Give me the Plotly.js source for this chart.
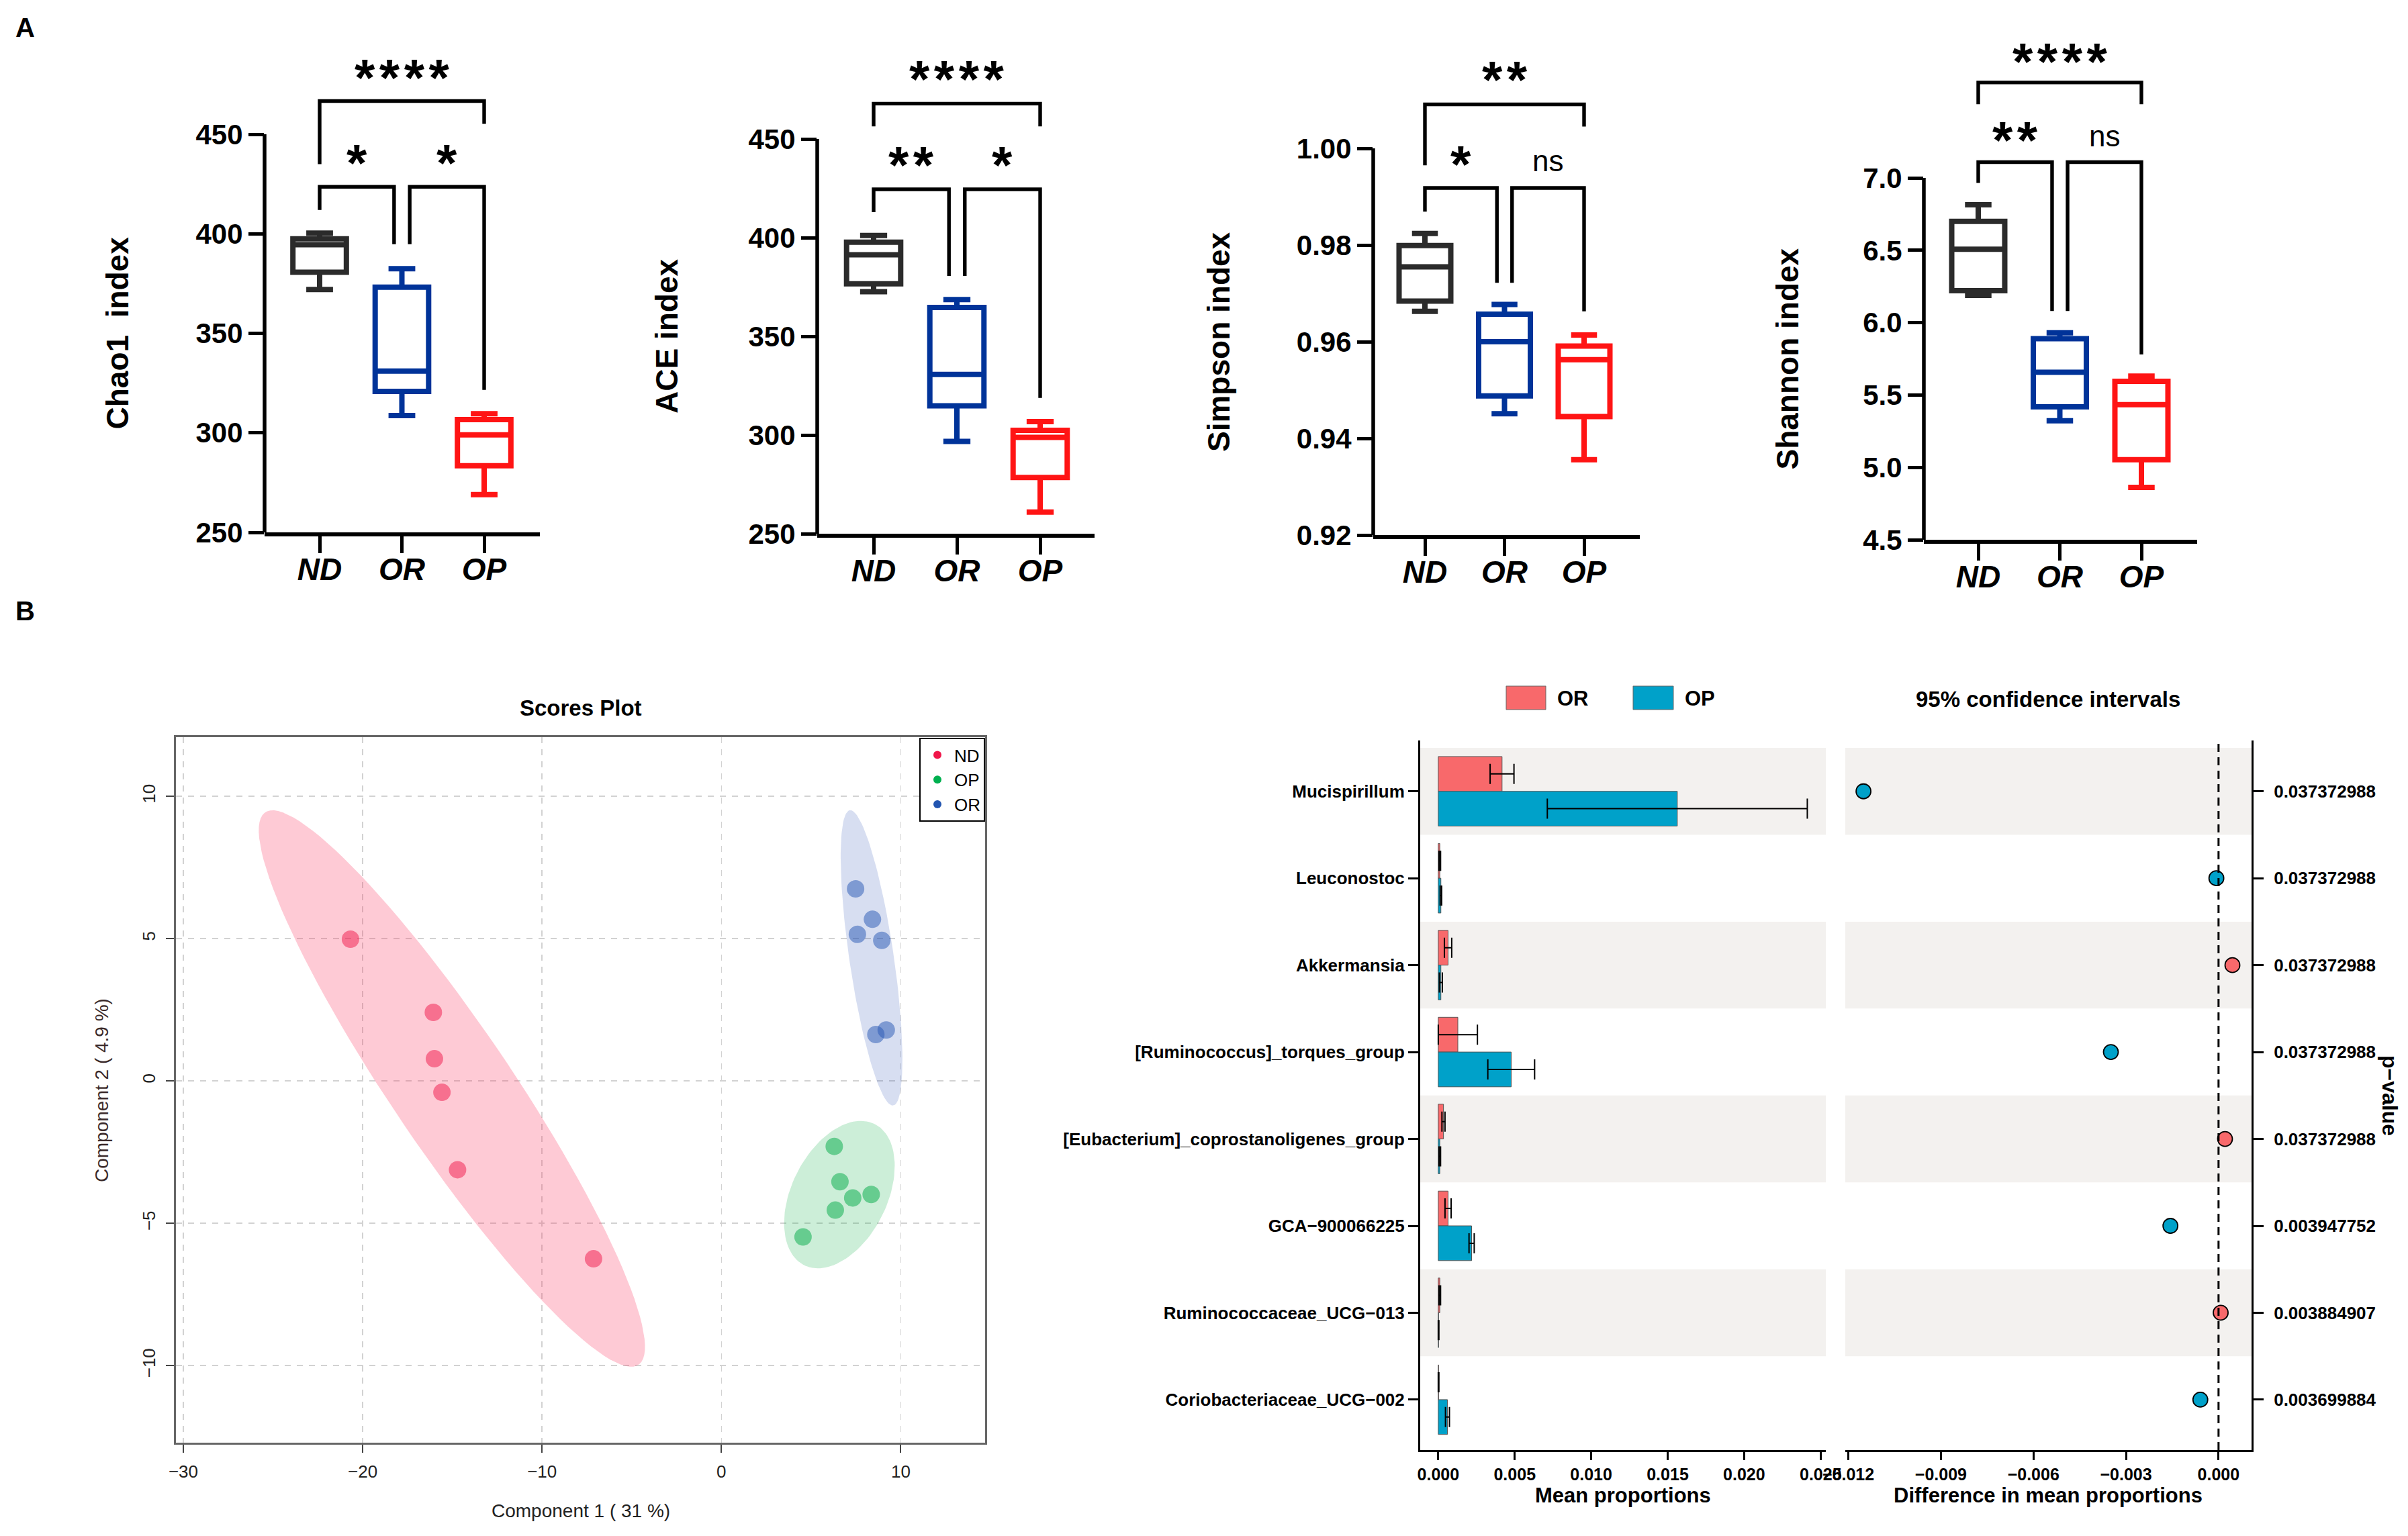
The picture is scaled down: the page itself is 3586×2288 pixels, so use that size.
<!DOCTYPE html>
<html><head><meta charset="utf-8">
<script src="https://cdn.plot.ly/plotly-3.0.1.min.js"></script>
<style>html,body{margin:0;padding:0;background:#fff}#chart{width:3586px;height:2288px}</style>
</head><body><div id="chart"></div>
<script>
// ================= DATA =================
const groups = ['ND', 'OR', 'OP'];

// Panel A – box summaries (lower whisker, Q1, median, Q3, upper whisker), per group ND, OR, OP
const chaoMin = [372.0, 308.7, 269.0];
const chaoQ1  = [380.7, 320.8, 283.5];
const chaoMed = [394.5, 331.0, 299.0];
const chaoQ3  = [397.5, 373.2, 306.7];
const chaoMax = [400.3, 382.5, 309.6];

const aceMin = [372.6, 296.8, 261.0];
const aceQ1  = [376.6, 314.8, 278.5];
const aceMed = [391.3, 330.7, 298.8];
const aceQ3  = [397.7, 364.6, 302.4];
const aceMax = [401.1, 368.6, 306.8];

const simpsonMin = [0.9663, 0.9451, 0.9356];
const simpsonQ1  = [0.9684, 0.9488, 0.9445];
const simpsonMed = [0.9755, 0.9600, 0.9563];
const simpsonQ3  = [0.9799, 0.9657, 0.9591];
const simpsonMax = [0.9824, 0.9677, 0.9614];

const shannonMin = [6.188, 5.322, 4.862];
const shannonQ1  = [6.221, 5.418, 5.053];
const shannonMed = [6.507, 5.657, 5.434];
const shannonQ3  = [6.700, 5.889, 5.595];
const shannonMax = [6.815, 5.930, 5.630];

const chaoTicks    = [250, 300, 350, 400, 450];
const aceTicks     = [250, 300, 350, 400, 450];
const simpsonTicks = [0.92, 0.94, 0.96, 0.98, 1.00];
const shannonTicks = [4.5, 5.0, 5.5, 6.0, 6.5, 7.0];

// significance brackets: pairs (group index a, group index b)
const sigPairs = [[0, 2], [0, 1], [1, 2]];
const chaoSigLabel = ['****', '*', '*'];
const chaoSigBar   = [466.7, 423.6, 423.6];
const chaoSigLegA  = [435.0, 412.0, 394.8];
const chaoSigLegB  = [455.2, 394.8, 321.6];
const chaoSigText  = [480.6, 438.0, 438.0];

const aceSigLabel = ['****', '**', '*'];
const aceSigBar   = [467.9, 424.5, 424.5];
const aceSigLegA  = [456.4, 412.9, 380.6];
const aceSigLegB  = [456.4, 380.6, 318.8];
const aceSigText  = [482.7, 439.0, 439.0];

const simpsonSigLabel = ['**', '*', 'ns'];
const simpsonSigBar   = [1.0091, 0.9918, 0.9918];
const simpsonSigLegA  = [0.9965, 0.9869, 0.9722];
const simpsonSigLegB  = [1.0045, 0.9722, 0.9663];
const simpsonSigText  = [1.0151, 0.9977, 0.9975];

const shannonSigLabel = ['****', '**', 'ns'];
const shannonSigBar   = [7.659, 7.109, 7.109];
const shannonSigLegA  = [7.509, 6.965, 6.080];
const shannonSigLegB  = [7.509, 6.080, 5.780];
const shannonSigText  = [7.836, 7.291, 7.291];

// Panel B left – PLS-DA scores
const ndX = [-20.68, -16.06, -16.00, -15.58, -14.71, -7.13];
const ndY = [4.98, 2.41, 0.78, -0.40, -3.12, -6.25];
const opX = [6.29, 6.61, 7.32, 8.35, 6.35, 4.55];
const opY = [-2.30, -3.54, -4.11, -3.99, -4.54, -5.48];
const orX = [7.48, 8.42, 7.58, 8.94, 8.61, 9.19];
const orY = [6.75, 5.68, 5.15, 4.94, 1.63, 1.79];
const scoreXTicks = [-30, -20, -10, 0, 10];
const scoreYTicks = [-10, -5, 0, 5, 10];

// Panel B right – extended error bar plot
const genera = ['Mucispirillum', 'Leuconostoc', 'Akkermansia', '[Ruminococcus]_torques_group',
  '[Eubacterium]_coprostanoligenes_group', 'GCA\u2212900066225', 'Ruminococcaceae_UCG\u2212013',
  'Coriobacteriaceae_UCG\u2212002'];
const orMean = [0.00417, 0.00010, 0.00064, 0.00128, 0.00034, 0.00064, 0.00010, 0.00002];
const orErr  = [0.00078, 0.00005, 0.00024, 0.00128, 0.00010, 0.00020, 0.00005, 0.00002];
const opMean = [0.01563, 0.00017, 0.00017, 0.00477, 0.00010, 0.00218, 0.00002, 0.00060];
const opErr  = [0.00850, 0.00005, 0.00010, 0.00153, 0.00005, 0.00017, 0.00002, 0.00013];
const diffMean = [-0.01151, -0.00007, 0.00045, -0.00349, 0.00021, -0.00156, 0.00007, -0.00059];
const pValues = ['0.037372988', '0.037372988', '0.037372988', '0.037372988', '0.037372988',
  '0.003947752', '0.003884907', '0.003699884'];
const meanTicks = [0, 0.005, 0.010, 0.015, 0.020, 0.025];
const diffTicks = [-0.012, -0.009, -0.006, -0.003, 0];

// ================= STYLE / LAYOUT =================
const W = 3586, H = 2288;
const px = v => v / W;
const py = v => 1 - v / H;
const FONT = 'Liberation Sans, Arial, Helvetica, sans-serif';
const groupColors = ['#2B2B2B', '#003399', '#FF1414'];
const orColor = '#F8696B', opColor = '#00A1C9', bandColor = '#F3F1EF';

const traces = [];
const shapes = [];
const annotations = [];
const layout = {
  width: W, height: H, margin: {l: 0, r: 0, t: 0, b: 0}, autosize: false,
  paper_bgcolor: '#fff', plot_bgcolor: 'rgba(0,0,0,0)',
  font: {family: FONT, color: '#000'}, hovermode: false, showlegend: true,
  barmode: 'group', bargap: 0.2, bargroupgap: 0,
};

// ---------- Panel A ----------
const aPanels = [
  {name: 'Chao1\u00a0 index', min: chaoMin, q1: chaoQ1, med: chaoMed, q3: chaoQ3, max: chaoMax, ticks: chaoTicks, fmt: 'd',
   lab: chaoSigLabel, bar: chaoSigBar, legA: chaoSigLegA, legB: chaoSigLegB, txt: chaoSigText,
   axisX: 394, xEnd: 804, cat0: 476, step: 122.5, yBot: 793, yTop: 200, titleX: 175},
  {name: 'ACE index', min: aceMin, q1: aceQ1, med: aceMed, q3: aceQ3, max: aceMax, ticks: aceTicks, fmt: 'd',
   lab: aceSigLabel, bar: aceSigBar, legA: aceSigLegA, legB: aceSigLegB, txt: aceSigText,
   axisX: 1217, xEnd: 1630, cat0: 1301, step: 124, yBot: 795, yTop: 207, titleX: 993},
  {name: 'Simpson index', min: simpsonMin, q1: simpsonQ1, med: simpsonMed, q3: simpsonQ3, max: simpsonMax, ticks: simpsonTicks, fmt: '.2f',
   lab: simpsonSigLabel, bar: simpsonSigBar, legA: simpsonSigLegA, legB: simpsonSigLegB, txt: simpsonSigText,
   axisX: 2045, xEnd: 2442, cat0: 2122, step: 118.5, yBot: 797, yTop: 221, titleX: 1815},
  {name: 'Shannon index', min: shannonMin, q1: shannonQ1, med: shannonMed, q3: shannonQ3, max: shannonMax, ticks: shannonTicks, fmt: '.1f',
   lab: shannonSigLabel, bar: shannonSigBar, legA: shannonSigLegA, legB: shannonSigLegB, txt: shannonSigText,
   axisX: 2865, xEnd: 3272, cat0: 2946, step: 121.5, yBot: 804, yTop: 265, titleX: 2661},
];
const domTopPx = 40;
const LEG_OFF = 0.095;

aPanels.forEach((p, k) => {
  const n = k + 1, xa = 'x' + n, ya = 'y' + n;
  const yMin = p.ticks[0], yMaxTick = p.ticks[p.ticks.length - 1];
  const scale = (p.yBot - p.yTop) / (yMaxTick - yMin);
  const yRangeTop = yMin + (p.yBot - domTopPx) / scale;
  layout['xaxis' + n] = {
    domain: [px(p.axisX), px(p.xEnd)], anchor: ya,
    range: [(p.axisX - p.cat0) / p.step, (p.xEnd - p.cat0) / p.step],
    tickvals: groups.map((g, i) => i), ticktext: groups,
    showline: true, linecolor: '#000', linewidth: 5.5,
    ticks: 'outside', ticklen: 25, tickwidth: 5, tickcolor: '#000', ticklabelstandoff: -15,
    tickfont: {family: FONT, size: 46, weight: 'bold', style: 'italic', color: '#000'},
    showgrid: false, zeroline: false, fixedrange: true,
  };
  layout['yaxis' + n] = {
    domain: [py(p.yBot), py(domTopPx)], anchor: xa,
    range: [yMin, yRangeTop], tickvals: p.ticks, tickformat: p.fmt,
    showline: false, ticks: 'outside', ticklen: 23, tickwidth: 5, tickcolor: '#000',
    tickfont: {family: FONT, size: 42, weight: 'bold', color: '#000'},
    showgrid: false, zeroline: false, fixedrange: true,
  };
  // y axis line spanning only the tick range
  shapes.push({type: 'line', xref: 'paper', yref: ya, x0: px(p.axisX), x1: px(p.axisX),
    y0: yMin, y1: yMaxTick, line: {color: '#000', width: 5.5}});
  // boxes
  groups.forEach((g, i) => {
    traces.push({type: 'box', xaxis: xa, yaxis: ya, name: g, x: [i],
      q1: [p.q1[i]], median: [p.med[i]], q3: [p.q3[i]], lowerfence: [p.min[i]], upperfence: [p.max[i]],
      width: 0.65, whiskerwidth: 0.5, boxpoints: false,
      line: {color: groupColors[i], width: 8}, fillcolor: 'rgba(255,255,255,0)',
      showlegend: false, hoverinfo: 'skip'});
  });
  // significance brackets
  sigPairs.forEach(([a, b], j) => {
    const adjacent = (b - a) === 1;
    const xaPos = a + (adjacent && a === 1 ? LEG_OFF : 0);
    const xbPos = b - (adjacent && b === 1 ? LEG_OFF : 0);
    traces.push({type: 'scatter', mode: 'lines', xaxis: xa, yaxis: ya,
      x: [xaPos, xaPos, xbPos, xbPos], y: [p.legA[j], p.bar[j], p.bar[j], p.legB[j]],
      line: {color: '#000', width: 5.4}, showlegend: false, hoverinfo: 'skip'});
    const isNs = p.lab[j] === 'ns';
    annotations.push({xref: xa, yref: ya, x: (xaPos + xbPos) / 2, y: p.txt[j],
      text: isNs ? 'ns' : p.lab[j].split('').join('\u200A'), showarrow: false,
      xanchor: 'center', yanchor: 'middle', yshift: isNs ? 0 : -7,
      font: isNs ? {family: FONT, size: 44, color: '#000'} : {family: FONT, size: 78, weight: 'bold', color: '#000'}});
  });
  // y title
  annotations.push({xref: 'paper', yref: 'paper', x: px(p.titleX), y: py((p.yBot + p.yTop) / 2),
    text: p.name, textangle: -90, showarrow: false, xanchor: 'center', yanchor: 'middle',
    font: {family: FONT, size: 46, weight: 'bold', color: '#000'}});
});

// panel letters
annotations.push({xref: 'paper', yref: 'paper', x: px(37), y: py(41), text: 'A', showarrow: false,
  font: {family: FONT, size: 40, weight: 'bold'}, xanchor: 'center', yanchor: 'middle'});
annotations.push({xref: 'paper', yref: 'paper', x: px(37), y: py(910), text: 'B', showarrow: false,
  font: {family: FONT, size: 40, weight: 'bold'}, xanchor: 'center', yanchor: 'middle'});

// ---------- Panel B left: scores plot ----------
function confEllipse(xs, ys) {
  const n = xs.length;
  const mx = xs.reduce((s, v) => s + v, 0) / n, my = ys.reduce((s, v) => s + v, 0) / n;
  let sxx = 0, syy = 0, sxy = 0;
  for (let i = 0; i < n; i++) { const dx = xs[i] - mx, dy = ys[i] - my; sxx += dx * dx; syy += dy * dy; sxy += dx * dy; }
  sxx /= (n - 1); syy /= (n - 1); sxy /= (n - 1);
  const sx = Math.sqrt(sxx), sy = Math.sqrt(syy), d = Math.acos(sxy / (sx * sy));
  const t = Math.sqrt(5.991464547); // 95% level, 2 df
  const ex = [], ey = [];
  for (let k = 0; k <= 120; k++) {
    const a = 2 * Math.PI * k / 120;
    ex.push(mx + t * sx * Math.cos(a + d / 2));
    ey.push(my + t * sy * Math.cos(a - d / 2));
  }
  return {ex, ey};
}
const scoreSets = [
  {name: 'ND', xs: ndX, ys: ndY, fill: 'rgba(250,60,100,0.27)', pt: 'rgba(240,22,74,0.5)', solid: '#F0164A'},
  {name: 'OP', xs: opX, ys: opY, fill: 'rgba(0,170,60,0.20)', pt: 'rgba(0,170,70,0.5)', solid: '#00B04F'},
  {name: 'OR', xs: orX, ys: orY, fill: 'rgba(40,80,180,0.19)', pt: 'rgba(37,85,180,0.5)', solid: '#2255B0'},
];
scoreSets.forEach(s => {
  const e = confEllipse(s.xs, s.ys);
  traces.push({type: 'scatter', mode: 'lines', xaxis: 'x5', yaxis: 'y5', x: e.ex, y: e.ey,
    fill: 'toself', fillcolor: s.fill, line: {width: 0}, showlegend: false, hoverinfo: 'skip'});
});
scoreSets.forEach(s => {
  traces.push({type: 'scatter', mode: 'markers', xaxis: 'x5', yaxis: 'y5', x: s.xs, y: s.ys,
    marker: {size: 26, color: s.pt}, showlegend: false, hoverinfo: 'skip'});
});
scoreSets.forEach(s => {
  traces.push({type: 'scatter', mode: 'markers', xaxis: 'x5', yaxis: 'y5', x: [null], y: [null],
    name: s.name, marker: {size: 19, color: s.solid}, showlegend: true, hoverinfo: 'skip'});
});
const scoreAxisCommon = {
  showline: true, mirror: true, linecolor: '#666', linewidth: 3,
  ticks: 'outside', ticklen: 12, tickwidth: 2, tickcolor: '#444',
  showgrid: true, gridcolor: '#D2D2D2', griddash: 'dash', gridwidth: 1.5,
  zeroline: false, fixedrange: true, tickfont: {family: FONT, size: 26, color: '#222'},
};
layout.xaxis5 = Object.assign({}, scoreAxisCommon, {domain: [px(262), px(1467)], anchor: 'y5',
  range: [-30.41, 14.70], tickvals: scoreXTicks, ticklabelstandoff: 6});
layout.yaxis5 = Object.assign({}, scoreAxisCommon, {domain: [py(2149), py(1098)], anchor: 'x5',
  range: [-12.71, 12.08], tickvals: scoreYTicks, tickangle: -90, ticklabelstandoff: 6});
layout.legend = {x: px(1467), xanchor: 'right', y: py(1099), yanchor: 'top',
  bordercolor: '#000', borderwidth: 2, bgcolor: '#fff', itemsizing: 'constant',
  font: {family: FONT, size: 26, color: '#000'}, tracegroupgap: 0, itemwidth: 40};
annotations.push({xref: 'paper', yref: 'paper', x: px(865), y: py(1054), text: 'Scores Plot', showarrow: false,
  font: {family: FONT, size: 33, weight: 'bold', color: '#000'}, xanchor: 'center', yanchor: 'middle'});
annotations.push({xref: 'paper', yref: 'paper', x: px(865), y: py(2250), text: 'Component 1 ( 31 %)', showarrow: false,
  font: {family: FONT, size: 28, color: '#222'}, xanchor: 'center', yanchor: 'middle'});
annotations.push({xref: 'paper', yref: 'paper', x: px(151), y: py(1624), text: 'Component 2 ( 4.9 %)', showarrow: false,
  textangle: -90, font: {family: FONT, size: 28, color: '#3a2a2a'}, xanchor: 'center', yanchor: 'middle'});

// ---------- Panel B right: extended error bar ----------
const rowRange = [7.58, -0.585];
layout.xaxis6 = {domain: [px(2115), px(2719)], anchor: 'y6', range: [-0.00118, 0.02534],
  tickvals: meanTicks, tickformat: '.3f', showline: true, linecolor: '#000', linewidth: 3,
  ticks: 'outside', ticklen: 12, tickwidth: 3, tickcolor: '#000', showgrid: false, zeroline: false,
  tickfont: {family: FONT, size: 25, weight: 'bold', color: '#000'}, fixedrange: true};
layout.yaxis6 = {domain: [py(2160), py(1103)], anchor: 'x6', type: 'category', categoryorder: 'array',
  categoryarray: genera, range: rowRange, showline: true, linecolor: '#000', linewidth: 3,
  ticks: 'outside', ticklen: 15, tickwidth: 3, tickcolor: '#000', showgrid: false, zeroline: false,
  tickfont: {family: FONT, size: 26, weight: 'bold', color: '#000'}, fixedrange: true};
layout.xaxis7 = {domain: [px(2748), px(3353)], anchor: 'y7', range: [-0.0121, 0.00107],
  tickvals: diffTicks, tickformat: '.3f', showline: true, linecolor: '#000', linewidth: 3,
  ticks: 'outside', ticklen: 12, tickwidth: 3, tickcolor: '#000', showgrid: false, zeroline: false,
  tickfont: {family: FONT, size: 25, weight: 'bold', color: '#000'}, fixedrange: true};
layout.yaxis7 = {domain: [py(2160), py(1103)], anchor: 'x7', side: 'right', type: 'category',
  categoryorder: 'array', categoryarray: genera, range: rowRange, tickvals: genera, ticktext: pValues,
  showline: true, linecolor: '#000', linewidth: 3, ticks: 'outside', ticklen: 15, tickwidth: 3,
  tickcolor: '#000', showgrid: false, zeroline: false, ticklabelstandoff: 10,
  tickfont: {family: FONT, size: 26, weight: 'bold', color: '#000'}, fixedrange: true};

genera.forEach((g, i) => {
  if (i % 2 === 0) {
    ['6', '7'].forEach(a => shapes.push({type: 'rect', layer: 'below', xref: 'x' + a + ' domain', yref: 'y' + a,
      x0: 0, x1: 1, y0: i - 0.5, y1: i + 0.5, fillcolor: bandColor, line: {width: 0}}));
  }
});
traces.push({type: 'bar', orientation: 'h', xaxis: 'x6', yaxis: 'y6', name: 'OR', x: orMean, y: genera,
  marker: {color: orColor, line: {color: '#555', width: 1}},
  error_x: {type: 'data', array: orErr, color: '#000', thickness: 2, width: 15}, showlegend: false, hoverinfo: 'skip'});
traces.push({type: 'bar', orientation: 'h', xaxis: 'x6', yaxis: 'y6', name: 'OP', x: opMean, y: genera,
  marker: {color: opColor, line: {color: '#555', width: 1}},
  error_x: {type: 'data', array: opErr, color: '#000', thickness: 2, width: 15}, showlegend: false, hoverinfo: 'skip'});
shapes.push({type: 'line', xref: 'x7', yref: 'y7 domain', x0: 0, x1: 0, y0: 0, y1: 1,
  line: {color: '#000', width: 3, dash: '12px,8px'}});
traces.push({type: 'scatter', mode: 'markers', xaxis: 'x7', yaxis: 'y7', x: diffMean, y: genera,
  marker: {size: 22, color: diffMean.map(v => v >= 0 ? orColor : opColor), line: {color: '#000', width: 1.8}},
  showlegend: false, hoverinfo: 'skip'});

// manual legend for the bar chart
[['OR', orColor, 2243, 2302, 2317], ['OP', opColor, 2432, 2492, 2507]].forEach(([t, c, x0, x1, tx]) => {
  shapes.push({type: 'rect', xref: 'paper', yref: 'paper', x0: px(x0), x1: px(x1), y0: py(1057), y1: py(1022),
    fillcolor: c, line: {color: '#666', width: 1}});
  annotations.push({xref: 'paper', yref: 'paper', x: px(tx), y: py(1040), text: t, showarrow: false,
    xanchor: 'left', yanchor: 'middle', font: {family: FONT, size: 31, weight: 'bold', color: '#000'}});
});
annotations.push({xref: 'paper', yref: 'paper', x: px(2417), y: py(2227), text: 'Mean proportions', showarrow: false,
  font: {family: FONT, size: 31, weight: 'bold'}, xanchor: 'center', yanchor: 'middle'});
annotations.push({xref: 'paper', yref: 'paper', x: px(3050), y: py(2227), text: 'Difference in mean proportions', showarrow: false,
  font: {family: FONT, size: 31, weight: 'bold'}, xanchor: 'center', yanchor: 'middle'});
annotations.push({xref: 'paper', yref: 'paper', x: px(3050), y: py(1041), text: '95% confidence intervals', showarrow: false,
  font: {family: FONT, size: 33, weight: 'bold'}, xanchor: 'center', yanchor: 'middle'});
annotations.push({xref: 'paper', yref: 'paper', x: px(3559), y: py(1632), text: 'p\u2212value', showarrow: false,
  textangle: 90, font: {family: FONT, size: 32, weight: 'bold'}, xanchor: 'center', yanchor: 'middle'});

layout.shapes = shapes;
layout.annotations = annotations;
Plotly.newPlot('chart', traces, layout, {staticPlot: true, displayModeBar: false});
</script>
</body></html>
